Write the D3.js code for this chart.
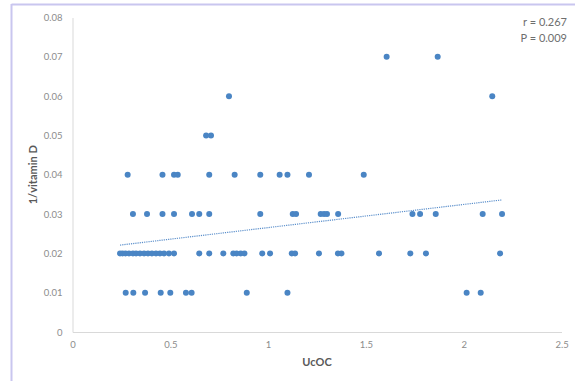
<!DOCTYPE html>
<html>
<head>
<meta charset="utf-8">
<script src="https://cdn.jsdelivr.net/npm/d3@7"></script>
<style>
  body { margin: 0; background: #fff; }
  svg { display: block; font-family: Lato, "Open Sans", sans-serif; }
</style>
</head>
<body>
<div id="chart"></div>
<script>
// Data, one list of UcOC values per 1/vitamin D level

const levels = [0.01, 0.02, 0.03, 0.04, 0.05, 0.06, 0.07];

const ucoc001 = [0.272, 0.311, 0.371, 0.451, 0.500, 0.580, 0.609, 0.891, 1.099, 2.015, 2.087];
const ucoc002 = [0.243, 0.256, 0.271, 0.289, 0.309, 0.325, 0.345, 0.366, 0.386, 0.406, 0.427,
  0.447, 0.468, 0.493, 0.519, 0.648, 0.699, 0.771, 0.822, 0.839, 0.860, 0.879, 0.970, 1.010,
  1.121, 1.138, 1.260, 1.357, 1.375, 1.567, 1.727, 1.807, 2.186];
const ucoc003 = [0.309, 0.381, 0.460, 0.519, 0.611, 0.648, 0.699, 0.960, 1.126, 1.143, 1.269,
  1.286, 1.301, 1.358, 1.738, 1.777, 1.857, 2.097, 2.196];
const ucoc004 = [0.282, 0.460, 0.519, 0.538, 0.699, 0.829, 0.960, 1.059, 1.099, 1.209, 1.489];
const ucoc005 = [0.683, 0.708];
const ucoc006 = [0.800, 2.146];
const ucoc007 = [1.606, 1.867];

const ucocByLevel = [ucoc001, ucoc002, ucoc003, ucoc004, ucoc005, ucoc006, ucoc007];

// Linear trendline ends
const trendX = [0.243, 2.196];
const trendY = [0.0221, 0.0336];

const xTicks = [0, 0.5, 1, 1.5, 2, 2.5];
const yTicks = [0, 0.01, 0.02, 0.03, 0.04, 0.05, 0.06, 0.07, 0.08];

const stats = ["r = 0.267", "P = 0.009"];

const points = [];
ucocByLevel.forEach((arr, i) => arr.forEach(v => points.push({ x: v, y: levels[i] })));

// Setting up the svg

const W = 575, H = 381;
const svg = d3.select("#chart")
  .append("svg")
  .attr("width", W)
  .attr("height", H);

// Frame lines of the original picture
svg.append("line")
  .attr("x1", 11.5).attr("x2", 11.5).attr("y1", 4).attr("y2", H)
  .attr("stroke", "#c9c6ef").attr("stroke-width", 2);
svg.append("line")
  .attr("x1", 11.5).attr("x2", W).attr("y1", 4.5).attr("y2", 4.5)
  .attr("stroke", "#c9c6ef").attr("stroke-width", 2);

// Scales

const x = d3.scaleLinear()
  .domain([0, 2.5])
  .range([72.5, 561.5]);

const y = d3.scaleLinear()
  .domain([0, 0.08])
  .range([332, 17.5]);

// Axes

const xAxis = svg.append("g")
  .attr("transform", `translate(0,${y(0)})`)
  .call(d3.axisBottom(x)
    .tickValues(xTicks)
    .tickFormat(d3.format("~g"))
    .tickSize(0)
    .tickPadding(9));

const yAxis = svg.append("g")
  .attr("transform", `translate(${x(0)},0)`)
  .call(d3.axisLeft(y)
    .tickValues(yTicks)
    .tickFormat(d => d === 0 ? "0" : d3.format(".2f")(d))
    .tickSize(0)
    .tickPadding(10));

[xAxis, yAxis].forEach(g => {
  g.select(".domain").attr("stroke", "#d9d9d9").attr("stroke-width", 1);
  g.selectAll(".tick text")
    .style("font-size", "9.5px")
    .style("font-family", "Lato, sans-serif")
    .attr("fill", "#8c8c8c");
});

// Axis titles

svg.append("text")
  .attr("transform", `translate(34,${(y(0) + y(0.08)) / 2}) rotate(-90)`)
  .attr("text-anchor", "middle")
  .attr("dominant-baseline", "middle")
  .style("font-size", "11px")
  .style("font-weight", "bold")
  .attr("fill", "#595959")
  .text("1/vitamin D");

svg.append("text")
  .attr("x", (x(0) + x(2.5)) / 2)
  .attr("y", 363)
  .attr("text-anchor", "middle")
  .attr("dominant-baseline", "middle")
  .style("font-size", "11px")
  .style("font-weight", "bold")
  .attr("fill", "#595959")
  .text("UcOC");

// Trendline

svg.append("path")
  .datum(trendX.map((v, i) => ({ x: v, y: trendY[i] })))
  .attr("fill", "none")
  .attr("stroke", "#5b8fcb")
  .attr("stroke-width", 1.2)
  .attr("stroke-dasharray", "1.2,1")
  .attr("d", d3.line().x(d => x(d.x)).y(d => y(d.y)));

// Points

svg.append("g")
  .selectAll("circle")
  .data(points)
  .join("circle")
  .attr("cx", d => x(d.x))
  .attr("cy", d => y(d.y))
  .attr("r", 3)
  .attr("fill", "#4a85c4");

// Stats note

svg.append("g")
  .selectAll("text")
  .data(stats)
  .join("text")
  .attr("x", 567)
  .attr("y", (d, i) => 23 + i * 16)
  .attr("text-anchor", "end")
  .attr("dominant-baseline", "middle")
  .style("font-size", "11px")
  .attr("fill", "#6e6e6e")
  .text(d => d);
</script>
</body>
</html>
